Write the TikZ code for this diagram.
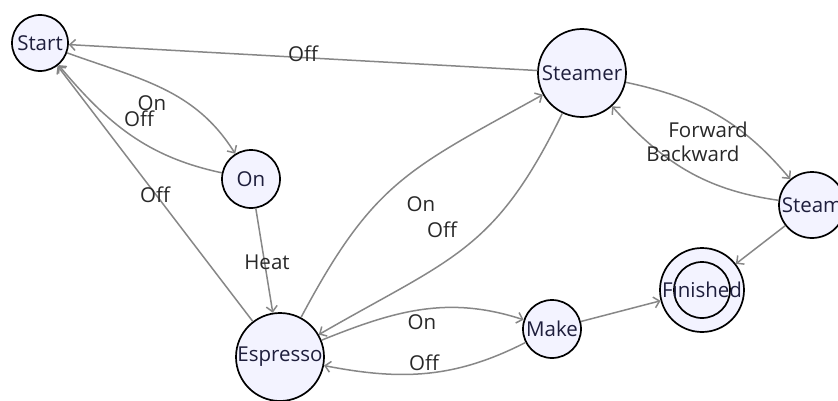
\documentclass[tikz,border=0pt]{standalone}
\usepackage{fontspec}
\setmainfont{Open Sans}
\usetikzlibrary{arrows.meta}

\definecolor{smStateFill}{RGB}{243,243,255}
\definecolor{smStateText}{RGB}{30,30,60}
\definecolor{smEdgeColor}{RGB}{135,135,135}
\definecolor{smLabelColor}{RGB}{40,40,40}

\begin{document}
\begin{tikzpicture}[x=1pt, y=1pt,
  smstate/.style={circle, draw=black, line width=1.7pt, fill=smStateFill,
    text=smStateText, inner sep=0pt, font=\fontsize{20.5}{24}\selectfont},
  smedge/.style={draw=smEdgeColor, line width=1.5pt,
    -{Straight Barb[length=5.5pt, width=11pt]}},
  smlabel/.style={text=smLabelColor, inner sep=0pt, font=\fontsize{20.5}{24}\selectfont}]
% Page frame
\useasboundingbox (0,0) rectangle (838,400);
% States
\node[smstate, minimum size=56pt] (start) at (40,357) {Start};
\node[smstate, minimum size=58pt] (on) at (251,221) {On};
\node[smstate, minimum size=88pt] (espresso) at (280,43) {Espresso};
\node[smstate, minimum size=58pt] (make) at (552,71) {Make};
\node[smstate, minimum size=88pt] (steamer) at (582,327) {Steamer};
\node[smstate, minimum size=66pt] (steam) at (812,195) {Steam};
\node[smstate, minimum size=84pt] (finished) at (702,110) {};
\draw[line width=1.7pt] (finished.center) circle[radius=28];
\node[text=smStateText, font=\fontsize{20.5}{24}\selectfont] (finishedtxt) at (finished.center) {Finished};
% Transitions
\draw[smedge] (steamer) -- (start);
\draw[smedge] (start) to[out=-20, in=122] (on);
\draw[smedge] (on) to[out=168, in=-50] (start);
\draw[smedge] (espresso) -- (start);
\draw[smedge] (on) -- (espresso);
\draw[smedge] (espresso) to[out=62, in=209, looseness=1.2] (steamer);
\draw[smedge] (steamer) to[out=244, in=30, looseness=1.2] (espresso);
\draw[smedge] (espresso) to[out=22, in=162] (make);
\draw[smedge] (make) to[out=207, in=-11] (espresso);
\draw[smedge] (make) -- (finished);
\draw[smedge] (steamer) to[out=-12, in=130] (steam);
\draw[smedge] (steam) to[out=172, in=-48] (steamer);
\draw[smedge] (steam) -- (finished);
% Transition labels
\node[smlabel] (lblsteameroff) at (303,346) {Off};
\node[smlabel] (lblstarton) at (152,297) {On};
\node[smlabel] (lblonoff) at (139,281) {Off};
\node[smlabel] (lblespoff) at (155,205) {Off};
\node[smlabel] (lblheat) at (267,138) {Heat};
\node[smlabel] (lblespon) at (421,196) {On};
\node[smlabel] (lblsteamoff) at (442,170) {Off};
\node[smlabel] (lblmakeon) at (422,78) {On};
\node[smlabel] (lblmakeoff) at (424,37) {Off};
\node[smlabel] (lblforward) at (708,270) {Forward};
\node[smlabel] (lblbackward) at (693,246) {Backward};
\end{tikzpicture}
\end{document}
